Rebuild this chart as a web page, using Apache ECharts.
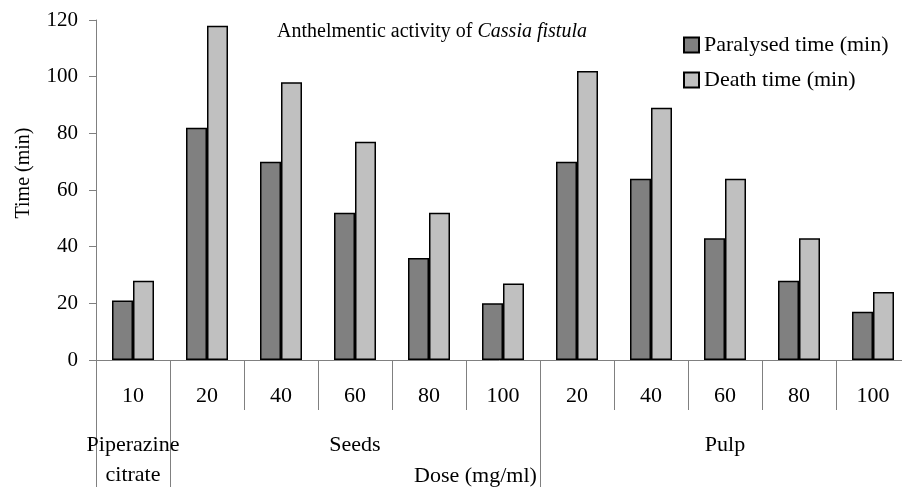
<!DOCTYPE html>
<html>
<head>
<meta charset="utf-8">
<script src="https://cdn.jsdelivr.net/npm/echarts@6/dist/echarts.min.js"></script>
<style>
  html, body { margin: 0; padding: 0; background: #fff; }
  #linebox { width: 902px; height: 487px; }
</style>
</head>
<body>
<div id="linebox"></div>
<script>
  // data
  var doses = ['10', '20', '40', '60', '80', '100', '20', '40', '60', '80', '100'];
  var paralysed = [21, 82, 70, 52, 36, 20, 70, 64, 43, 28, 17];
  var death = [28, 118, 98, 77, 52, 27, 102, 89, 64, 43, 24];
  var groupNames = ['Piperazine\ncitrate', 'Seeds', 'Pulp'];
  var groupSizes = [1, 5, 5];
  var yTicks = { min: 0, max: 120, interval: 20 };

  var font = "'Liberation Serif', 'Times New Roman', serif";
  var axisColor = '#808080';

  // second category row: group name at the middle of each group, separators at group starts
  var groupAxis = [];
  var groupStarts = [];
  var groupMids = [];
  var pos = 0;
  groupSizes.forEach(function (n, g) {
    groupStarts.push(pos);
    groupMids.push(pos + Math.floor(n / 2));
    for (var i = 0; i < n; i++) {
      groupAxis.push(i === Math.floor(n / 2) ? groupNames[g] : '');
    }
    pos += n;
  });

  var myChart = echarts.init(document.getElementById('linebox'));
  var option = {
    animation: false,
    title: [
      {
        text: '{a|Anthelmentic activity of }{b|Cassia fistula}',
        left: 277,
        top: 22,
        padding: 0,
        textStyle: {
          rich: {
            a: { fontFamily: font, fontSize: 20, fontWeight: 'normal', color: '#000' },
            b: { fontFamily: font, fontSize: 20, fontWeight: 'normal', fontStyle: 'italic', color: '#000' }
          }
        }
      },
      {
        text: 'Dose (mg/ml)',
        left: 414,
        top: 465,
        padding: 0,
        textStyle: { fontFamily: font, fontSize: 22, fontWeight: 'normal', color: '#000' }
      }
    ],
    legend: {
      orient: 'vertical',
      left: 683,
      top: 34,
      padding: 0,
      icon: 'rect',
      itemWidth: 15,
      itemHeight: 15,
      itemGap: 13,
      textStyle: { fontFamily: font, fontSize: 22, color: '#000' },
      data: ['Paralysed time (min)', 'Death time (min)']
    },
    grid: {    // plot box, labels are allowed to run past the edges
      left: 96,
      top: 20,
      width: 814,
      bottom: 127,
      containLabel: false,
      outerBoundsMode: 'none'
    },
    xAxis: [
      {
        type: 'category',
        data: doses,
        axisLine: { lineStyle: { color: axisColor, width: 1 } },
        axisTick: { show: true, length: 50, lineStyle: { color: axisColor } },
        axisLabel: { fontFamily: font, fontSize: 22, color: '#000', margin: 25, interval: 0 },
        splitLine: { show: false }
      },
      {
        type: 'category',
        data: groupAxis,
        position: 'bottom',
        axisLine: { show: false },
        axisTick: {
          show: true,
          length: 130,
          interval: function (i) { return groupStarts.indexOf(i) >= 0; },
          lineStyle: { color: axisColor }
        },
        axisLabel: {
          fontFamily: font,
          fontSize: 22,
          lineHeight: 30,
          color: '#000',
          margin: 70,
          interval: function (i) { return groupMids.indexOf(i) >= 0; }
        },
        splitLine: { show: false }
      }
    ],
    yAxis: {
      type: 'value',
      min: yTicks.min,
      max: yTicks.max,
      interval: yTicks.interval,
      name: 'Time (min)',
      nameLocation: 'middle',
      nameGap: 62,
      nameTextStyle: { fontFamily: font, fontSize: 20, color: '#000', padding: [0, 0, 0, 34] },
      axisLine: { show: true, lineStyle: { color: axisColor } },
      axisTick: { show: true, length: 7, lineStyle: { color: axisColor } },
      axisLabel: { fontFamily: font, fontSize: 21, color: '#000', margin: 18 },
      splitLine: { show: false }
    },
    series: [
      {
        name: 'Paralysed time (min)',
        type: 'bar',
        barWidth: 21,
        barGap: '0%',
        data: paralysed,
        itemStyle: { color: '#808080', borderColor: '#000', borderWidth: 1.5 }
      },
      {
        name: 'Death time (min)',
        type: 'bar',
        barWidth: 21,
        barGap: '0%',
        data: death,
        itemStyle: { color: '#c0c0c0', borderColor: '#000', borderWidth: 1.5 }
      }
    ]
  };
  myChart.setOption(option);
</script>
</body>
</html>
